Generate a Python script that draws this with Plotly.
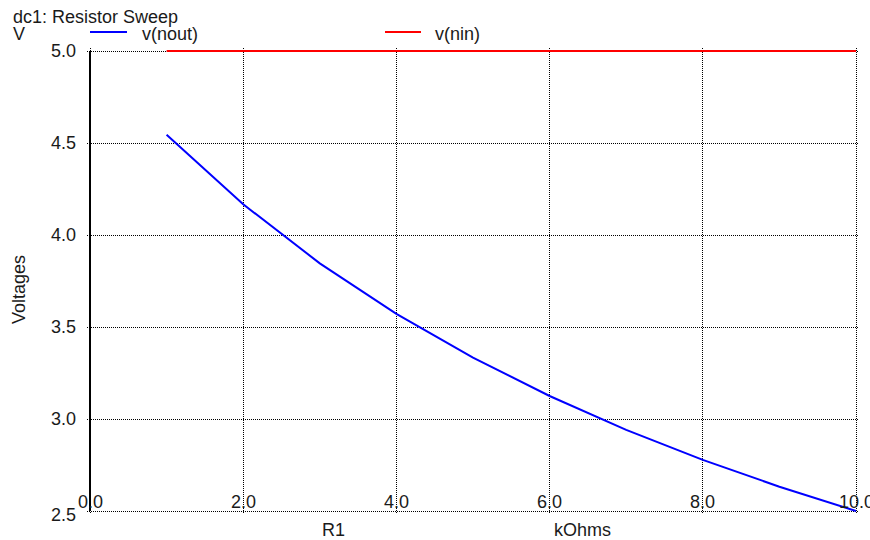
import plotly.graph_objects as go

r1_kohms = [1, 2, 3, 4, 5, 6, 7, 8, 9, 10]
v_nout = [4.545, 4.167, 3.846, 3.571, 3.333, 3.125, 2.941, 2.778, 2.632, 2.5]
v_nin = [5.0, 5.0, 5.0, 5.0, 5.0, 5.0, 5.0, 5.0, 5.0, 5.0]
x_ticks = [0, 2, 4, 6, 8, 10]
x_tick_labels = ["0.0", "2.0", "4.0", "6.0", "8.0", "10.0"]
y_ticks = [2.5, 3.0, 3.5, 4.0, 4.5, 5.0]
y_tick_labels = ["2.5", "3.0", "3.5", "4.0", "4.5", "5.0"]
series_names = ["v(nout)", "v(nin)"]
series_colors = ["#0000ff", "#ff0000"]

FONT = "Liberation Sans, Arial, sans-serif"
TXT = "#1a1a1a"
FS = 18
W, H = 870, 540
# frame of the data area in pixels (axis range edges)
FL, FR, FT, FB = 90, 856, 51, 511
PAD = 3  # extra pixels so lines on the frame edge are not clipped
xmin, xmax = x_ticks[0], x_ticks[-1]
ymin, ymax = y_ticks[0], y_ticks[-1]
xpx = (FR - FL) / (xmax - xmin)
ypx = (FB - FT) / (ymax - ymin)
L, R, T, B = FL - PAD, W - FR - PAD, FT - PAD, H - FB - PAD
PW, PH = W - L - R, H - T - B
DOT = "1px,1px"


def px_x(p):
    return (p - L) / PW


def px_y(p):
    return 1 - (p - T) / PH


fig = go.Figure()
fig.add_trace(go.Scatter(x=r1_kohms, y=v_nout, mode="lines", name=series_names[0],
                         line=dict(color=series_colors[0], width=2)))
fig.add_trace(go.Scatter(x=r1_kohms, y=v_nin, mode="lines", name=series_names[1],
                         line=dict(color=series_colors[1], width=2)))

ann = []
shapes = []
ann.append(dict(text="dc1: Resistor Sweep", xref="paper", yref="paper", x=px_x(11), y=px_y(17),
                xanchor="left", yanchor="middle", showarrow=False,
                font=dict(size=FS, color=TXT)))
ann.append(dict(text="V", xref="paper", yref="paper", x=px_x(11), y=px_y(34),
                xanchor="left", yanchor="middle", showarrow=False,
                font=dict(size=FS, color=TXT)))
ann.append(dict(text="Voltages", xref="paper", yref="paper", x=px_x(19), y=px_y(290),
                xanchor="center", yanchor="middle", showarrow=False, textangle=-90,
                font=dict(size=FS, color=TXT)))
ann.append(dict(text="R1", xref="paper", yref="paper", x=px_x(333), y=px_y(530),
                xanchor="center", yanchor="middle", showarrow=False,
                font=dict(size=FS, color=TXT)))
ann.append(dict(text="kOhms", xref="paper", yref="paper", x=px_x(582), y=px_y(530),
                xanchor="center", yanchor="middle", showarrow=False,
                font=dict(size=FS, color=TXT)))
for xv, lab in zip(x_ticks, x_tick_labels):
    ann.append(dict(text=lab, x=xv, y=ymin, xref="x", yref="y", showarrow=False,
                    xanchor="center", yanchor="middle", yshift=9,
                    font=dict(size=FS, color=TXT)))
for yv, lab in zip(y_ticks, y_tick_labels):
    ann.append(dict(text=lab, x=xmin, y=yv, xref="x", yref="y", showarrow=False,
                    xanchor="right", yanchor="middle", xshift=-12,
                    yshift=(-4 if yv == ymin else 0),
                    font=dict(size=FS, color=TXT)))
leg_y = px_y(32)
leg_pos = [(90, 127, 140), (385, 421, 433)]
for (x0, x1, xt), name, col in zip(leg_pos, series_names, series_colors):
    shapes.append(dict(type="line", xref="paper", yref="paper",
                       x0=px_x(x0), x1=px_x(x1), y0=leg_y, y1=leg_y,
                       line=dict(color=col, width=2)))
    ann.append(dict(text=name, xref="paper", yref="paper", x=px_x(xt), y=px_y(34),
                    xanchor="left", yanchor="middle", showarrow=False,
                    font=dict(size=FS, color=TXT)))
# solid left axis line
shapes.append(dict(type="line", xref="x", yref="y", x0=xmin, x1=xmin, y0=ymin, y1=ymax,
                   line=dict(color="black", width=2)))

fig.update_layout(
    width=W, height=H,
    margin=dict(l=L, r=R, t=T, b=B, pad=0, autoexpand=False),
    paper_bgcolor="white", plot_bgcolor="white",
    font=dict(family=FONT, size=FS, color=TXT),
    hovermode=False, showlegend=False,
    xaxis=dict(range=[xmin - PAD / xpx, xmax + PAD / xpx], tickvals=x_ticks,
               showticklabels=False, showgrid=True, gridcolor="black", griddash=DOT,
               gridwidth=1, zeroline=False, showline=False, ticks="", automargin=False),
    yaxis=dict(range=[ymin - PAD / ypx, ymax + PAD / ypx], tickvals=y_ticks,
               showticklabels=False, showgrid=True, gridcolor="black", griddash=DOT,
               gridwidth=1, zeroline=False, showline=False, ticks="", automargin=False),
    annotations=ann, shapes=shapes,
)

fig.write_html("out.html", config={"displayModeBar": False},
               post_script="document.body.style.margin='0px';")
